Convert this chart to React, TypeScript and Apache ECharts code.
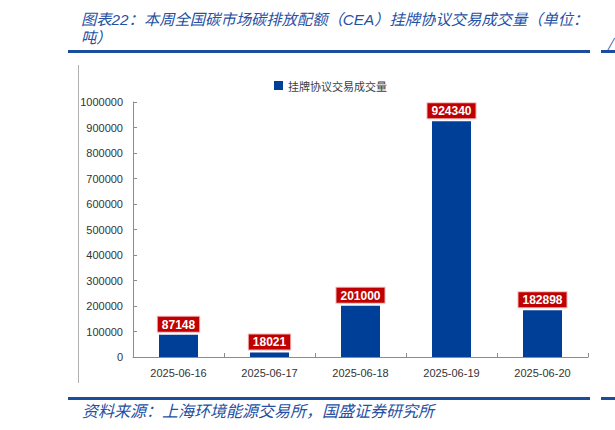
import React, { useEffect, useRef } from "react";
import * as echarts from "echarts";

const categories = ["2025-06-16", "2025-06-17", "2025-06-18", "2025-06-19", "2025-06-20"];
const volumes = [87148, 18021, 201000, 924340, 182898];
const seriesName = "挂牌协议交易成交量";
const titleLine1 = "图表22：本周全国碳市场碳排放配额（CEA）挂牌协议交易成交量（单位：";
const titleLine2 = "吨）";
const sourceText = "资料来源：上海环境能源交易所，国盛证券研究所";

const BLUE_TEXT = "#2550a3";
const RULE = "#1b4d9e";
const BAR = "#003f98";
const CJK = "'Noto Sans CJK SC', 'Noto Sans', sans-serif";
const TITLE_FONT = "'Liberation Sans', 'Noto Sans CJK SC', sans-serif";
const NUM = "'Liberation Sans', Arial, sans-serif";

export default function App() {
  const ref = useRef<HTMLDivElement>(null);
  useEffect(() => {
    if (!ref.current) return;
    const chart = echarts.init(ref.current, null, { renderer: "svg" });
    chart.setOption({
      animation: false,
      backgroundColor: "#ffffff",
      grid: { left: 133, right: 27, top: 102, bottom: 73, containLabel: false },
      legend: {
        data: [seriesName],
        left: 269,
        top: 75,
        icon: "rect",
        itemWidth: 9,
        itemHeight: 9,
        textStyle: { fontSize: 11, color: "#404040", fontFamily: CJK },
      },
      xAxis: {
        type: "category",
        data: categories,
        axisLine: { show: true, lineStyle: { color: "#8c8c8c", width: 1 } },
        axisTick: { show: true, inside: true, length: 4, lineStyle: { color: "#8c8c8c" } },
        axisLabel: { fontSize: 11, color: "#333333", fontFamily: NUM, margin: 10 },
      },
      yAxis: {
        type: "value",
        min: 0,
        max: 1000000,
        interval: 100000,
        splitLine: { show: false },
        axisLine: { show: true, lineStyle: { color: "#8c8c8c", width: 1 } },
        axisTick: { show: true, inside: true, length: 4, lineStyle: { color: "#8c8c8c" } },
        axisLabel: {
          fontSize: 11,
          color: "#333333",
          fontFamily: NUM,
          margin: 10,
          formatter: (v: number) => String(v),
        },
      },
      series: [
        {
          name: seriesName,
          type: "bar",
          data: volumes,
          barWidth: 39,
          itemStyle: { color: BAR },
          label: {
            show: true,
            position: "top",
            distance: 3,
            color: "#ffffff",
            fontWeight: "bold",
            fontSize: 12,
            fontFamily: NUM,
            backgroundColor: "#c00000",
            borderColor: "#f2b8b8",
            borderWidth: 1,
            padding: [2, 4, 1, 4],
          },
        },
      ],
      graphic: [
        {
          type: "text",
          left: 81,
          top: 11,
          style: {
            text: titleLine1,
            fill: BLUE_TEXT,
            font: `italic 15.3px ${TITLE_FONT}`,
            lineHeight: 16,
          },
        },
        {
          type: "text",
          left: 81,
          top: 29,
          style: {
            text: titleLine2,
            fill: BLUE_TEXT,
            font: `italic 15.3px ${TITLE_FONT}`,
            lineHeight: 16,
          },
        },
        {
          type: "text",
          left: 607,
          top: 36,
          style: { text: "/", fill: BLUE_TEXT, font: `italic 14px ${CJK}` },
        },
        { type: "rect", shape: { x: 68, y: 50, width: 522, height: 3 }, style: { fill: RULE } },
        { type: "rect", shape: { x: 601, y: 50, width: 14, height: 3 }, style: { fill: RULE } },
        {
          type: "line",
          shape: { x1: 78.5, y1: 65, x2: 78.5, y2: 383 },
          style: { stroke: "#b0b0b0", lineWidth: 1 },
        },
        { type: "rect", shape: { x: 68, y: 397, width: 522, height: 3 }, style: { fill: RULE } },
        { type: "rect", shape: { x: 601, y: 397, width: 14, height: 3 }, style: { fill: RULE } },
        {
          type: "text",
          left: 82,
          top: 402,
          style: {
            text: sourceText,
            fill: BLUE_TEXT,
            font: `italic 16px ${CJK}`,
            lineHeight: 16,
          },
        },
      ],
    });
    return () => chart.dispose();
  }, []);
  return (
    <div
      ref={ref}
      style={{ position: "fixed", left: 0, top: 0, width: 615, height: 430 }}
    />
  );
}
